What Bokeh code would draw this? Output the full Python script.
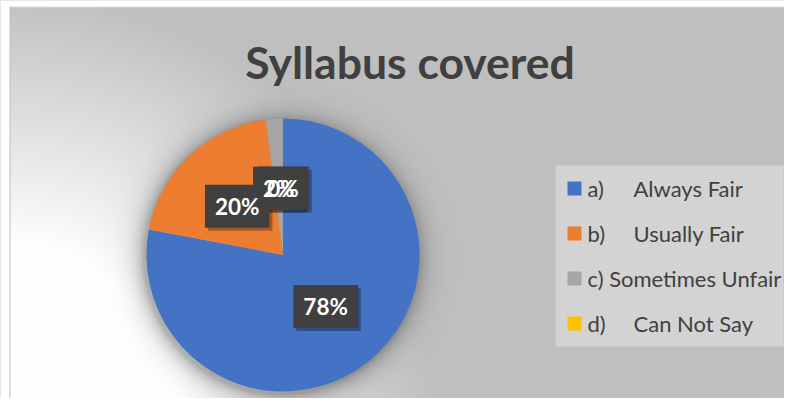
import numpy as np
from bokeh.plotting import figure
from bokeh.models import Range1d
from bokeh.core.properties import value
from bokeh.embed import file_html
from bokeh.resources import INLINE

# ---- data ----
title_text = "Syllabus covered"
categories = ["a)\tAlways Fair", "b)\tUsually Fair", "c) Sometimes Unfair", "d)\tCan Not Say"]
values = [78, 20, 2, 0]
colors = ["#4472C4", "#ED7D31", "#A5A5A5", "#FFC000"]

# ---- layout (pixel coordinates, y downward; data y = -pixel y) ----
W, H = 784, 398
X0, Y0 = 0, 0
CX, CY, R = 282.5, 254.5, 136.5
FONT = "Lato"
TXT = "#404040"

p = figure(width=W, height=H, x_range=Range1d(X0, X0 + W), y_range=Range1d(-(Y0 + H), -Y0),
           output_backend="svg", toolbar_location=None, min_border=0,
           x_axis_location=None, y_axis_location=None)
p.grid.visible = False
p.background_fill_color = "#c0c0c0"
p.border_fill_color = "#c0c0c0"
p.outline_line_color = None

# ---- background: radial gradient from bottom-left + soft pie shadow ----
xs = np.arange(W) + X0 + 0.5
ys = Y0 + H - np.arange(H) - 0.5
XX, YY = np.meshgrid(xs, ys)
d = np.hypot(XX - 10, YY - 414)
f = np.clip((420 - d) / (420 - 167), 0, 1)
bg = 192 + (255 - 192) * f
ds = np.hypot(XX - (CX - 2), YY - (CY + 3)) - R
sh = np.where(ds < 0, 0.30, 0.30 * np.exp(-np.clip(ds, 0, None) / 10.0))
g = np.clip(bg * (1 - sh), 0, 255)
g = np.where((YY >= 6) & (YY < 7) & (XX >= 9), 217, g)
g = np.where((XX >= 9) & (XX < 10.5) & (YY >= 6), 190, g)
g = np.where((XX < 9) | (YY < 6), 255, g).astype(np.uint8)
img = np.empty((H, W), dtype=np.uint32)
view = img.view(dtype=np.uint8).reshape((H, W, 4))
view[..., 0] = g
view[..., 1] = g
view[..., 2] = g
view[..., 3] = 255
p.image_rgba(image=[img], x=X0, y=-(Y0 + H), dw=W, dh=H)

# ---- pie ----
total = float(sum(values))
fracs = [v / total for v in values]
cum = np.concatenate([[0.0], np.cumsum(fracs)])
starts = [np.pi / 2 - 2 * np.pi * c for c in cum[:-1]]
ends = [np.pi / 2 - 2 * np.pi * c for c in cum[1:]]
nz = [i for i, v in enumerate(values) if v > 0]
p.wedge(x=CX, y=-CY, radius=R,
        start_angle=[starts[i] for i in nz], end_angle=[ends[i] for i in nz],
        direction="clock", fill_color=[colors[i] for i in nz], line_color=None)

# ---- data labels ----
mids = [(s + e) / 2 for s, e in zip(starts, ends)]
lx = [CX + 0.49 * R * np.cos(m) for m in mids]
ly = [-CY + 0.49 * R * np.sin(m) for m in mids]
labels = [f"{round(v / total * 100)}%" for v in values]
common = dict(text_font=value(FONT), text_font_style="bold", text_font_size="22.5px",
              text_align="center", text_baseline="middle", padding=(10, 8))
p.text(x=lx, y=ly, text=labels, text_alpha=0, background_fill_color="black",
       background_fill_alpha=0.3, x_offset=3, y_offset=3, **common)
p.text(x=lx, y=ly, text=labels, text_alpha=0, background_fill_color="#404040", **common)
p.text(x=lx, y=ly, text=labels, text_color="white", **common)

# ---- title ----
p.text(x=[409.5], y=[-61], text=[title_text], text_font=value(FONT), text_font_style="bold",
       text_font_size="44.5px", text_color=TXT, text_align="center", text_baseline="middle")

# ---- legend ----
p.quad(left=555, right=783, top=-165, bottom=-346, fill_color="#d3d3d3", line_color=None)
item_y = [-(188 + 45 * k) for k in range(len(categories))]
p.rect(x=574, y=item_y, width=14, height=14, width_units="screen", height_units="screen",
       fill_color=colors, line_color=None)
tx, ty, tt = [], [], []
for k, c in enumerate(categories):
    if "\t" in c:
        a, b = c.split("\t")
        tx += [587, 633]
        ty += [item_y[k], item_y[k]]
        tt += [a, b]
    else:
        tx.append(587)
        ty.append(item_y[k])
        tt.append(c)
p.text(x=tx, y=ty, text=tt, text_font=value(FONT), text_font_size="22px", text_color=TXT,
       text_align="left", text_baseline="middle")

open("out.html", "w").write(file_html(p, INLINE))
